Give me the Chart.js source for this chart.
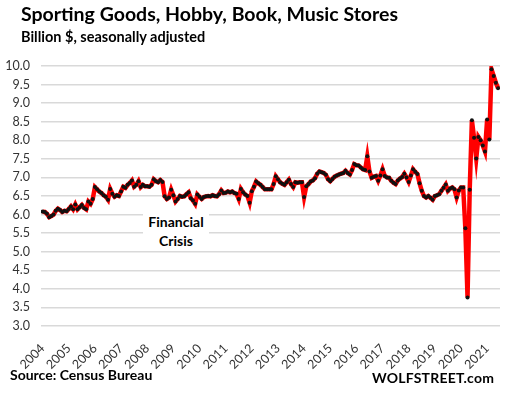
<!DOCTYPE html>
<html>
<head>
<meta charset="utf-8">
<script src="https://cdn.jsdelivr.net/npm/chart.js@4"></script>
<style>
  body { margin: 0; background: #fff; }
  #wrap { position: relative; width: 506px; height: 394px; overflow: hidden; font-family: Lato, "Open Sans", sans-serif; color: #000; }
  #wrap canvas { position: absolute; left: 0; top: 0; }
  .txt { position: absolute; font-weight: 700; white-space: nowrap; }
  #title { left: 21px; top: 2px; font-size: 19.5px; }
  #subtitle { left: 21px; top: 28px; font-size: 14.5px; }
  #source { left: 10px; top: 366px; font-size: 14px; }
  #brand { left: 372px; top: 369px; font-size: 14px; letter-spacing: 0.2px; }
  #note { left: 143px; top: 212px; width: 66px; height: 38px; background: #fff; font-size: 14px; text-align: center; line-height: 19px; }
</style>
</head>
<body>
<div id="wrap">
  <canvas id="salesChart" width="506" height="394"></canvas>
  <div class="txt" id="title">Sporting Goods, Hobby, Book, Music Stores</div>
  <div class="txt" id="subtitle">Billion $, seasonally adjusted</div>
  <div class="txt" id="note">Financial<br>Crisis</div>
  <div class="txt" id="source">Source: Census Bureau</div>
  <div class="txt" id="brand">WOLFSTREET.com</div>
</div>
<script>
// monthly sales, Jan 2004 .. Jun 2021 (billion $)
const years = ["2004", "2005", "2006", "2007", "2008", "2009", "2010", "2011", "2012",
  "2013", "2014", "2015", "2016", "2017", "2018", "2019", "2020", "2021"];

const sales = [
  // 2004
  6.08, 6.07, 6.02, 5.93, 5.96, 6.00, 6.10, 6.16, 6.12, 6.07, 6.10, 6.09,
  // 2005
  6.15, 6.22, 6.14, 6.27, 6.14, 6.20, 6.26, 6.18, 6.14, 6.35, 6.29, 6.42,
  // 2006
  6.74, 6.68, 6.62, 6.58, 6.52, 6.48, 6.40, 6.69, 6.56, 6.48, 6.52, 6.50,
  // 2007
  6.62, 6.75, 6.72, 6.80, 6.85, 6.92, 6.75, 6.80, 6.90, 6.74, 6.80, 6.76,
  // 2008
  6.76, 6.75, 6.80, 6.95, 6.90, 6.87, 6.93, 6.88, 6.49, 6.42, 6.46, 6.67,
  // 2009
  6.52, 6.35, 6.42, 6.50, 6.48, 6.49, 6.55, 6.60, 6.44, 6.38, 6.29, 6.54,
  // 2010
  6.48, 6.42, 6.47, 6.49, 6.50, 6.49, 6.52, 6.50, 6.49, 6.55, 6.65, 6.58,
  // 2011
  6.59, 6.62, 6.60, 6.62, 6.58, 6.56, 6.42, 6.69, 6.60, 6.54, 6.50, 6.32,
  // 2012
  6.63, 6.75, 6.89, 6.84, 6.80, 6.74, 6.68, 6.68, 6.68, 6.68, 6.82, 7.03,
  // 2013
  6.95, 6.87, 6.83, 6.80, 6.87, 6.94, 6.82, 6.74, 6.87, 6.86, 6.87, 6.87,
  // 2014
  6.47, 6.76, 6.82, 6.89, 6.92, 6.98, 7.10, 7.16, 7.14, 7.12, 7.07, 6.95,
  // 2015
  6.90, 6.96, 7.02, 7.05, 7.08, 7.10, 7.12, 7.18, 7.12, 7.08, 7.20, 7.36,
  // 2016
  7.33, 7.32, 7.27, 7.22, 7.20, 7.57, 7.16, 6.99, 7.02, 7.04, 6.91, 7.05,
  // 2017
  7.22, 7.04, 7.00, 6.99, 6.91, 6.86, 6.82, 6.92, 6.97, 7.01, 7.10, 7.00,
  // 2018
  6.88, 7.05, 7.22, 7.15, 7.09, 6.84, 6.64, 6.50, 6.46, 6.50, 6.45, 6.40,
  // 2019
  6.50, 6.52, 6.55, 6.64, 6.72, 6.81, 6.64, 6.70, 6.73, 6.68, 6.46, 6.65,
  // 2020
  6.73, 6.73, 5.63, 3.77, 6.67, 8.54, 8.07, 7.51, 8.09, 8.00, 7.86, 7.70,
  // 2021
  8.56, 8.02, 9.91, 9.73, 9.55, 9.40
];

const points = sales.map((v, i) => ({ x: i, y: v }));
const tickFont = { family: "Lato, 'Open Sans', sans-serif", size: 12.5 };

new Chart(document.getElementById("salesChart"), {
  type: "line",
  data: {
    datasets: [{
      data: points,
      borderColor: "#ff0000",
      borderWidth: 4.5,
      pointRadius: 2,
      pointHoverRadius: 2,
      pointBackgroundColor: "#111",
      pointBorderWidth: 0,
      tension: 0,
    }],
  },
  options: {
    responsive: false,
    animation: false,
    devicePixelRatio: 1,
    layout: { padding: { top: 66, right: 6, left: 0, bottom: 0 } },
    plugins: { legend: { display: false }, tooltip: { enabled: false } },
    scales: {
      x: {
        type: "linear",
        min: -0.75,
        max: 209.9,
        grid: { display: false },
        border: { display: false },
        afterBuildTicks: (s) => { s.ticks = years.map((y, k) => ({ value: k * 12 })); },
        afterFit: (s) => { s.height = 68; },
        ticks: {
          autoSkip: false,
          minRotation: 45,
          maxRotation: 45,
          padding: 7,
          color: "#333",
          font: tickFont,
          callback: (v) => years[Math.round(v / 12)],
        },
      },
      y: {
        min: 3,
        max: 10,
        grid: { color: "#d9d9d9", lineWidth: 1.5, drawTicks: false },
        border: { display: false },
        afterFit: (s) => { s.width = 41; },
        ticks: {
          stepSize: 0.5,
          padding: 11,
          color: "#333",
          font: tickFont,
          callback: (v) => v.toFixed(1),
        },
      },
    },
  },
});
</script>
</body>
</html>
